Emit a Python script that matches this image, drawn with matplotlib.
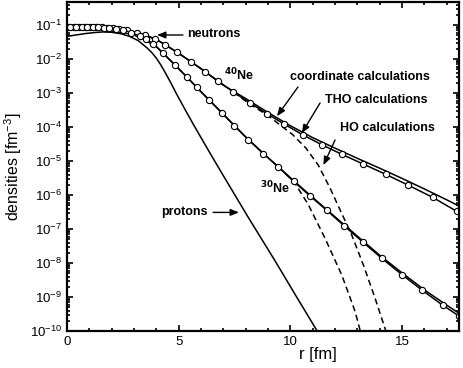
import numpy as np
import matplotlib
matplotlib.use("Agg")
import matplotlib.pyplot as plt
from matplotlib.ticker import FuncFormatter, LogLocator, MultipleLocator

plt.rcParams['font.family'] = ['Liberation Sans', 'DejaVu Sans']
plt.rcParams['mathtext.default'] = 'regular'

# densities given as log10(rho [fm^-3])

# protons (solid, no markers)
r_p = [0, 0.4, 0.8, 1.2, 1.6, 2.0, 2.4, 2.8, 3.2, 3.6, 3.8, 4.0, 4.2, 4.4, 4.65,
       4.9, 5.3, 5.7, 6.3, 6.9, 8.1, 9.3, 10.3, 11.2]
lg_p = [-1.33, -1.29, -1.25, -1.22, -1.20, -1.21, -1.25, -1.33, -1.46, -1.68,
        -1.81, -1.97, -2.17, -2.40, -2.70, -3.02, -3.50, -3.97, -4.65, -5.32,
        -6.64, -7.92, -9.02, -10.0]

# 40Ne neutrons, THO (line with circles)
r_40 = [0.05, 0.3, 0.55, 0.8, 1.05, 1.3, 1.55, 1.8, 2.05, 2.35, 2.68, 3.12, 3.49,
        3.94, 4.39, 4.94, 5.54, 6.18, 6.78, 7.45, 8.20, 8.94, 9.72, 10.56, 11.41,
        12.30, 13.27, 14.27, 15.28, 16.38, 17.45]
lg_40 = [-1.05, -1.05, -1.05, -1.05, -1.05, -1.05, -1.06, -1.07, -1.08, -1.10,
         -1.14, -1.22, -1.29, -1.40, -1.57, -1.80, -2.07, -2.37, -2.65, -2.97,
         -3.29, -3.60, -3.91, -4.23, -4.52, -4.80, -5.09, -5.39, -5.71, -6.07, -6.48]

# 40Ne neutrons, coordinate space
rc_40 = [0, 1, 2, 3, 4, 5, 6, 7, 8, 9, 10, 11, 12, 13, 14, 15, 16, 17, 17.6]
lgc_40 = [-1.05, -1.05, -1.08, -1.20, -1.42, -1.83, -2.28, -2.77, -3.16, -3.57,
          -3.96, -4.31, -4.62, -4.92, -5.21, -5.51, -5.82, -6.14, -6.34]

# 40Ne neutrons, HO (dashed, where it leaves the others)
rh_40 = [7.45, 8.2, 9.0, 9.5, 10.1, 10.7, 11.25, 11.78, 12.2, 12.75, 13.27, 13.79, 14.3]
lgh_40 = [-2.97, -3.33, -3.66, -3.92, -4.22, -4.62, -5.12, -5.80, -6.40, -7.18,
          -8.06, -9.03, -10.05]

# 30Ne neutrons, THO (line with circles)
r_30 = [0.15, 0.4, 0.65, 0.9, 1.15, 1.4, 1.65, 1.9, 2.2, 2.5, 2.85, 3.25, 3.55,
        3.86, 4.31, 4.84, 5.36, 5.81, 6.37, 6.93, 7.49, 8.12, 8.79, 9.46, 10.15,
        10.87, 11.63, 12.40, 13.24, 14.09, 14.99, 15.88, 16.82, 17.55]
lg_30 = [-1.05, -1.05, -1.05, -1.05, -1.05, -1.06, -1.07, -1.08, -1.10, -1.14,
         -1.22, -1.32, -1.42, -1.55, -1.83, -2.18, -2.52, -2.83, -3.21, -3.58,
         -3.96, -4.37, -4.78, -5.17, -5.60, -6.02, -6.45, -6.90, -7.38, -7.86,
         -8.34, -8.79, -9.24, -9.56]

# 30Ne neutrons, coordinate space
rc_30 = [0, 1, 2, 3, 4, 5, 6, 7, 8, 9, 10, 11, 12, 13, 14, 15, 16, 17, 17.6]
lgc_30 = [-1.05, -1.05, -1.08, -1.26, -1.63, -2.28, -2.96, -3.62, -4.29, -4.90,
          -5.49, -6.07, -6.64, -7.21, -7.77, -8.29, -8.79, -9.24, -9.50]

# 30Ne neutrons, HO (dashed)
rh_30 = [9.46, 9.9, 10.21, 10.81, 11.55, 12.30, 12.90, 13.15]
lgh_30 = [-5.17, -5.44, -5.66, -6.29, -7.27, -8.35, -9.43, -10.05]


def rho(lg):
    return 10.0 ** np.array(lg)


fig = plt.figure(figsize=(4.63, 3.68), dpi=100)
ax = fig.add_axes([0.1447, 0.1005, 0.8467, 0.8941])

lw = 1.1
ax.plot(r_p, rho(lg_p), color='black', lw=lw)
ax.plot(rc_40, rho(lgc_40), color='black', lw=lw)
ax.plot(rc_30, rho(lgc_30), color='black', lw=lw)
ax.plot(rh_40, rho(lgh_40), color='black', lw=lw, ls=(0, (4, 2.5)))
ax.plot(rh_30, rho(lgh_30), color='black', lw=lw, ls=(0, (4, 2.5)))
ax.plot(r_40, rho(lg_40), color='black', lw=lw, marker='o', ms=4.5,
        mfc='white', mec='black', mew=0.8)
ax.plot(r_30, rho(lg_30), color='black', lw=lw, marker='o', ms=4.5,
        mfc='white', mec='black', mew=0.8)

ax.set_yscale('log')
ax.set_xlim(0, 17.55)
ax.set_ylim(1e-10, 0.48)

ax.xaxis.set_major_locator(MultipleLocator(5))
ax.xaxis.set_minor_locator(MultipleLocator(1))
ax.yaxis.set_major_locator(LogLocator(base=10, numticks=20))
ax.yaxis.set_minor_locator(LogLocator(base=10, subs=np.arange(2, 10), numticks=20))
ax.yaxis.set_major_formatter(FuncFormatter(lambda v, p: r'$10^{%d}$' % round(np.log10(v))))
ax.tick_params(which='both', direction='in', top=True, right=True, labelsize=9.5, width=1.2)
ax.tick_params(which='major', length=4.5)
ax.tick_params(which='minor', length=2.2)
for s in ax.spines.values():
    s.set_linewidth(1.6)

ax.set_xlabel('r [fm]', fontsize=12)
ax.set_ylabel('densities [fm$^{-3}$]', fontsize=11.5)
ax.xaxis.set_label_coords(0.64, -0.05)
ax.yaxis.set_label_coords(-0.11, 0.5)

akw = dict(arrowstyle='-|>,head_length=0.5,head_width=0.2', color='black', lw=1.0,
           shrinkA=0, shrinkB=0)
tkw = dict(fontsize=9, fontweight='bold', va='center')

ax.annotate('', xy=(4.03, 10 ** -1.29), xytext=(5.19, 10 ** -1.29), arrowprops=akw)
ax.text(5.37, 10 ** -1.265, 'neutrons', ha='left', **tkw)

ax.annotate('', xy=(7.70, 10 ** -6.51), xytext=(6.54, 10 ** -6.51), arrowprops=akw)
ax.text(6.31, 10 ** -6.50, 'protons', ha='right', **tkw)

ax.text(7.03, 10 ** -2.47, r'$^{\mathbf{40}}$Ne', ha='left', **tkw)
ax.text(8.64, 10 ** -5.79, r'$^{\mathbf{30}}$Ne', ha='left', **tkw)

ax.text(9.99, 10 ** -2.53, 'coordinate calculations', ha='left', **tkw)
ax.annotate('', xy=(9.40, 10 ** -3.68), xytext=(10.34, 10 ** -2.82), arrowprops=akw)

ax.text(11.55, 10 ** -3.21, 'THO calculations', ha='left', **tkw)
ax.annotate('', xy=(10.51, 10 ** -4.18), xytext=(11.33, 10 ** -3.29), arrowprops=akw)

ax.text(12.23, 10 ** -4.03, 'HO calculations', ha='left', **tkw)
ax.annotate('', xy=(11.48, 10 ** -5.12), xytext=(12.0, 10 ** -4.38), arrowprops=akw)

fig.savefig('out.png', dpi=100)
